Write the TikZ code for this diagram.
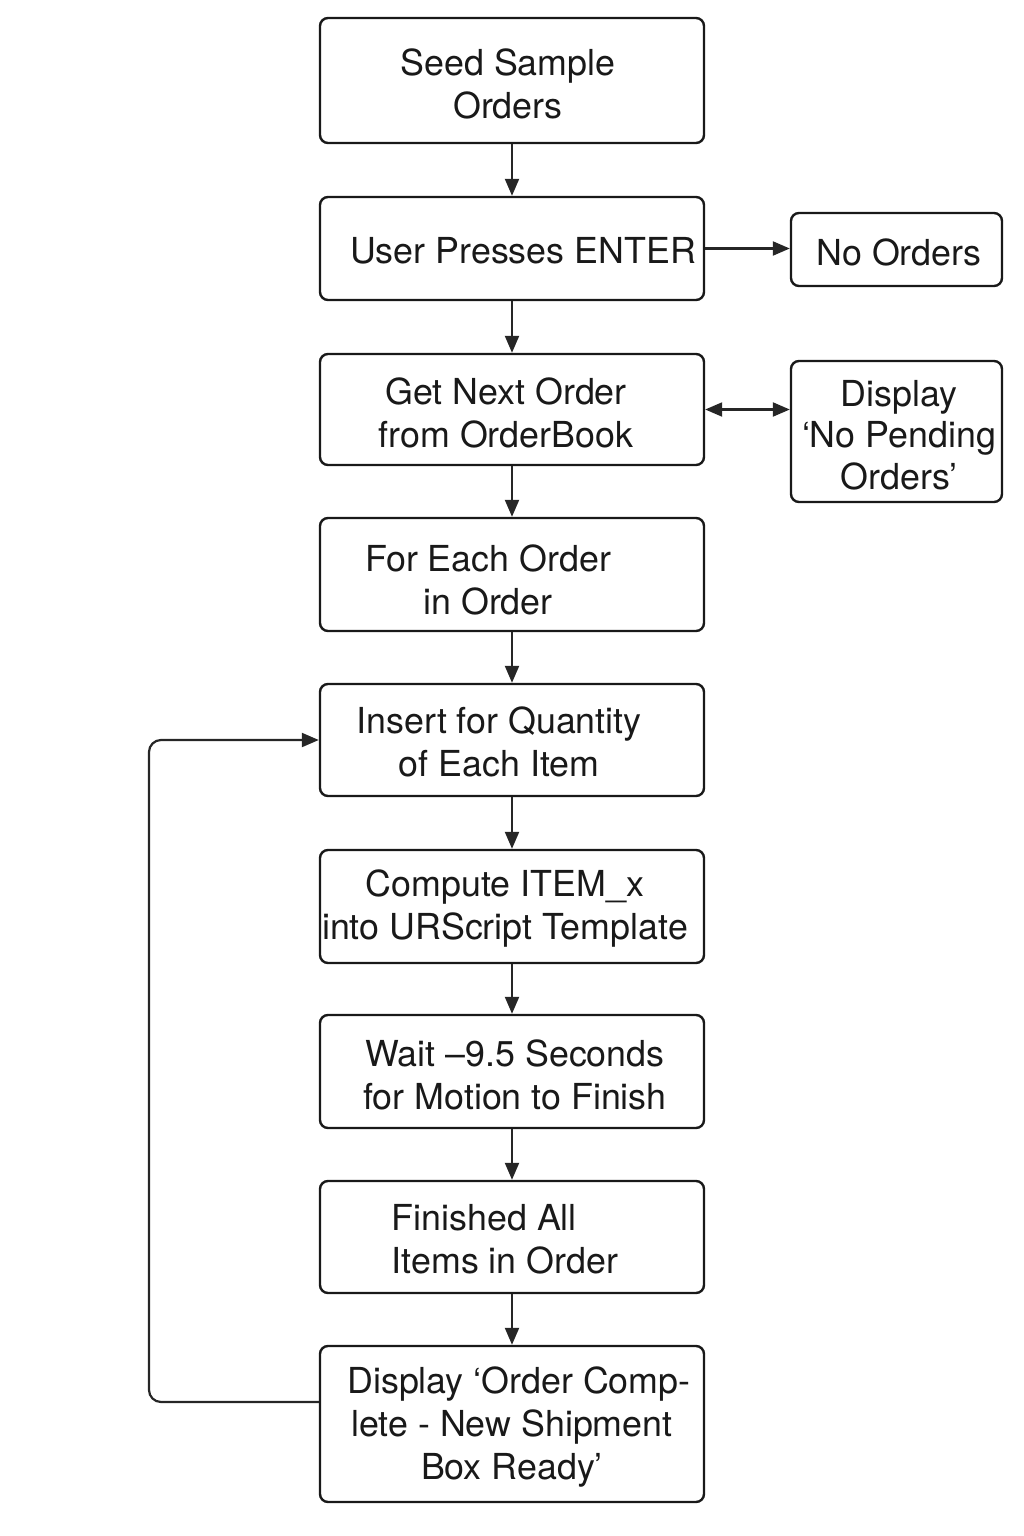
\documentclass[tikz,border=0pt]{standalone}
\usepackage{fontspec}
\setmainfont{TeX Gyre Heros}
\usetikzlibrary{arrows.meta,calc}
\begin{document}
\begin{tikzpicture}[x=1pt,y=-1pt,
  box/.style={draw=black!90,line width=2.4pt,rounded corners=8pt,minimum width=384pt,inner sep=0pt},
  sbox/.style={draw=black!90,line width=2.4pt,rounded corners=8pt,minimum width=211pt,inner sep=0pt},
  txt/.style={align=center,inner sep=0pt,font=\fontsize{35.8}{43}\selectfont,text=black!90},
  arr/.style={draw=black!85,line width=2.2pt,-{Triangle[length=17pt,width=14pt]}},
  darr/.style={draw=black!85,line width=2.2pt,{Triangle[length=17pt,width=14pt]}-{Triangle[length=17pt,width=14pt]}}]
\useasboundingbox (0,0) rectangle (1024,1536);
\node[box,minimum height=125pt] (b1) at (512,80.5) {};
\node[box,minimum height=103pt] (b2) at (512,248.5) {};
\node[box,minimum height=111pt] (b3) at (512,409.5) {};
\node[box,minimum height=113pt] (b4) at (512,574.5) {};
\node[box,minimum height=112pt] (b5) at (512,740) {};
\node[box,minimum height=113pt] (b6) at (512,906.5) {};
\node[box,minimum height=113pt] (b7) at (512,1071.5) {};
\node[box,minimum height=112pt] (b8) at (512,1237) {};
\node[box,minimum height=156pt] (b9) at (512,1424) {};
\node[sbox,minimum height=73pt] (s1) at (896.5,249.5) {};
\node[sbox,minimum height=141pt] (s2) at (896.5,431.5) {};

\node[txt] (t1) at (508,84) {Seed Sample\\Orders};
\node[txt] (t2) at (523,251) {User Presses ENTER};
\node[txt] (t3) at (506,413) {Get Next Order\hspace{14pt}\\from OrderBook};
\node[txt] (t4) at (488,580) {For Each Order\\in Order};
\node[txt] (t5) at (499,742) {Insert for Quantity\hspace{-18pt}\\of Each Item\hspace{18pt}};
\node[txt] (t6) at (505,909) {Compute ITEM\_x\hspace{-9pt}\\into URScript Template};
\node[txt] (t7) at (515,1075) {Wait --9.5 Seconds\hspace{-15pt}\\for Motion to Finish\hspace{15pt}};
\node[txt,align=left] (t8) at (505,1239) {Finished All\\Items in Order};
\node[txt] (t9) at (512,1427) {\hspace{14pt}Display ‘Order Comp-\\lete - New Shipment\\Box Ready’};
\node[txt] (t10) at (899,252) {No Orders};
\node[txt,font=\fontsize{35.8}{41.5}\selectfont] (t11) at (899,435) {Display\\‘No Pending\\Orders’};

\draw[arr] (b1) -- (b2);
\draw[arr] (b2) -- (b3);
\draw[arr] (b3) -- (b4);
\draw[arr] (b4) -- (b5);
\draw[arr] (b5) -- (b6);
\draw[arr] (b6) -- (b7);
\draw[arr] (b7) -- (b8);
\draw[arr] (b8) -- (b9);
\draw[arr] (b2.east) -- (s1.west |- b2.east);
\draw[darr] (b3.east) -- (s2.west |- b3.east);
\coordinate (c1) at (149,1402);
\coordinate (c2) at (149,740);
\draw[arr,rounded corners=12pt] (b9.west |- c1) -- (c1) -- (c2) -- (b5.west);
\end{tikzpicture}
\end{document}
